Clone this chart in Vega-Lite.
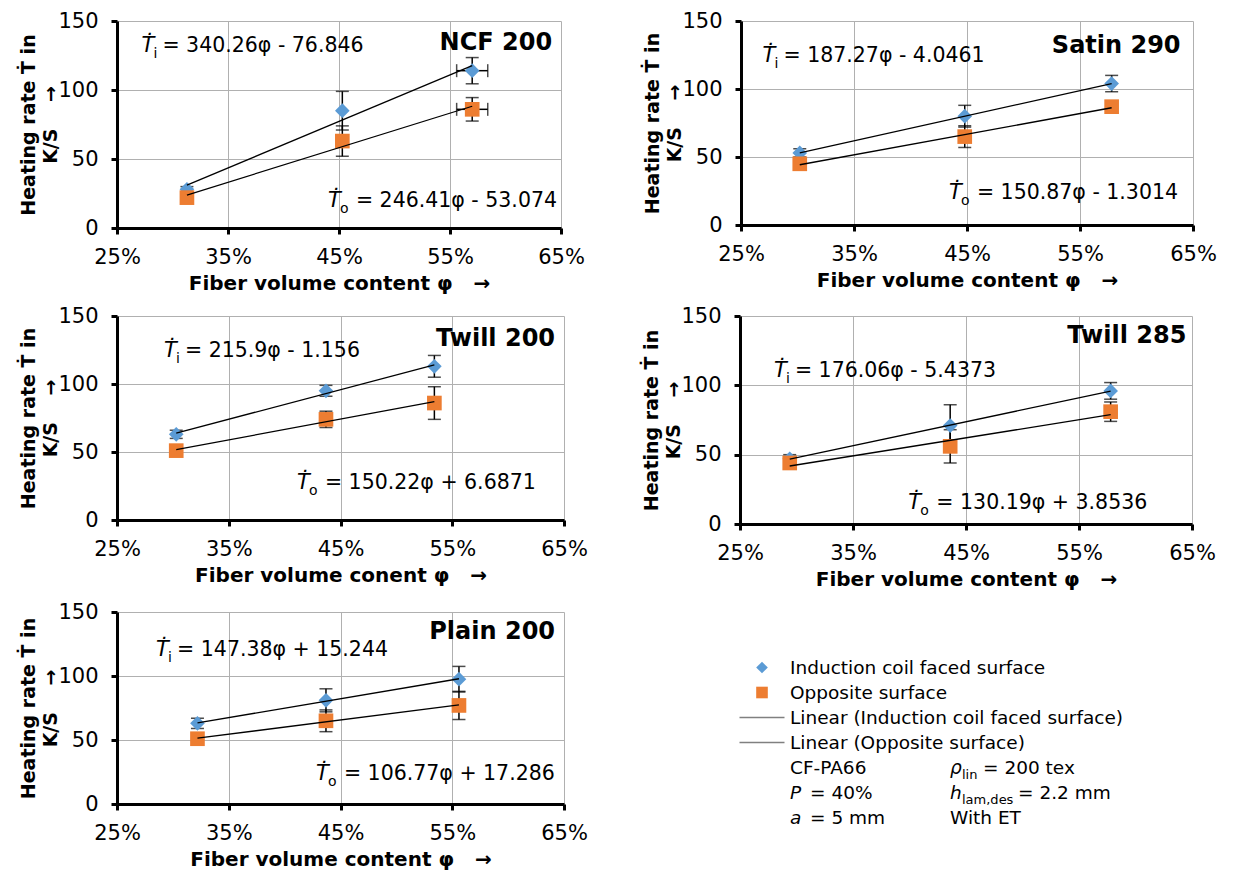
{
  "$schema": "https://vega.github.io/schema/vega-lite/v6.json",
  "padding": {"left": 19, "top": 10, "right": 5, "bottom": 5},
  "background": "white",
  "datasets": {
    "pts": [
      {"panel": "NCF 200", "series": "i", "phi": 0.313, "rate": 28, "ey": 2},
      {"panel": "NCF 200", "series": "i", "phi": 0.453, "rate": 85, "ey": 14},
      {"panel": "NCF 200", "series": "i", "phi": 0.570, "rate": 114, "ey": 9.5, "ex": 0.014},
      {"panel": "NCF 200", "series": "o", "phi": 0.313, "rate": 22, "ey": 2},
      {"panel": "NCF 200", "series": "o", "phi": 0.453, "rate": 63, "ey": 11},
      {"panel": "NCF 200", "series": "o", "phi": 0.570, "rate": 86, "ey": 8.5, "ex": 0.014},
      {"panel": "Satin 290", "series": "i", "phi": 0.302, "rate": 53, "ey": 3},
      {"panel": "Satin 290", "series": "i", "phi": 0.448, "rate": 80, "ey": 8},
      {"panel": "Satin 290", "series": "i", "phi": 0.578, "rate": 104, "ey": 6},
      {"panel": "Satin 290", "series": "o", "phi": 0.302, "rate": 45, "ey": 3},
      {"panel": "Satin 290", "series": "o", "phi": 0.448, "rate": 65, "ey": 8},
      {"panel": "Satin 290", "series": "o", "phi": 0.578, "rate": 87, "ey": 4},
      {"panel": "Twill 200", "series": "i", "phi": 0.303, "rate": 63, "ey": 3},
      {"panel": "Twill 200", "series": "i", "phi": 0.437, "rate": 95, "ey": 4},
      {"panel": "Twill 200", "series": "i", "phi": 0.534, "rate": 113, "ey": 8},
      {"panel": "Twill 200", "series": "o", "phi": 0.303, "rate": 51, "ey": 2},
      {"panel": "Twill 200", "series": "o", "phi": 0.437, "rate": 74, "ey": 6},
      {"panel": "Twill 200", "series": "o", "phi": 0.534, "rate": 86, "ey": 12},
      {"panel": "Twill 285", "series": "i", "phi": 0.294, "rate": 47, "ey": 3},
      {"panel": "Twill 285", "series": "i", "phi": 0.436, "rate": 71, "ey": 15},
      {"panel": "Twill 285", "series": "i", "phi": 0.578, "rate": 96, "ey": 6},
      {"panel": "Twill 285", "series": "o", "phi": 0.294, "rate": 44, "ey": 3},
      {"panel": "Twill 285", "series": "o", "phi": 0.436, "rate": 56, "ey": 12},
      {"panel": "Twill 285", "series": "o", "phi": 0.578, "rate": 81, "ey": 7},
      {"panel": "Plain 200", "series": "i", "phi": 0.322, "rate": 63, "ey": 4},
      {"panel": "Plain 200", "series": "i", "phi": 0.437, "rate": 81, "ey": 9},
      {"panel": "Plain 200", "series": "i", "phi": 0.556, "rate": 97.5, "ey": 10},
      {"panel": "Plain 200", "series": "o", "phi": 0.322, "rate": 51, "ey": 2},
      {"panel": "Plain 200", "series": "o", "phi": 0.437, "rate": 65, "ey": 8.5},
      {"panel": "Plain 200", "series": "o", "phi": 0.556, "rate": 77, "ey": 11}
    ],
    "eqs": [
      {"panel": "NCF 200", "phi": 0.272, "rate": 132, "sub": "i", "rest": "= 340.26φ - 76.846"},
      {"panel": "NCF 200", "phi": 0.440, "rate": 19.6, "sub": "o", "rest": "= 246.41φ - 53.074"},
      {"panel": "Satin 290", "phi": 0.269, "rate": 124, "sub": "i", "rest": "= 187.27φ - 4.0461"},
      {"panel": "Satin 290", "phi": 0.434, "rate": 23.7, "sub": "o", "rest": "= 150.87φ - 1.3014"},
      {"panel": "Twill 200", "phi": 0.292, "rate": 124, "sub": "i", "rest": "= 215.9φ - 1.156"},
      {"panel": "Twill 200", "phi": 0.411, "rate": 27.4, "sub": "o", "rest": "= 150.22φ + 6.6871"},
      {"panel": "Twill 285", "phi": 0.280, "rate": 110, "sub": "i", "rest": "= 176.06φ - 5.4373"},
      {"panel": "Twill 285", "phi": 0.399, "rate": 15.4, "sub": "o", "rest": "= 130.19φ + 3.8536"},
      {"panel": "Plain 200", "phi": 0.285, "rate": 120, "sub": "i", "rest": "= 147.38φ + 15.244"},
      {"panel": "Plain 200", "phi": 0.428, "rate": 23.4, "sub": "o", "rest": "= 106.77φ + 17.286"}
    ],
    "titles": [
      {"panel": "NCF 200", "phi": 0.642, "rate": 134, "label": "NCF 200"},
      {"panel": "Satin 290", "phi": 0.639, "rate": 131.6, "label": "Satin 290"},
      {"panel": "Twill 200", "phi": 0.642, "rate": 132.8, "label": "Twill 200"},
      {"panel": "Twill 285", "phi": 0.645, "rate": 135.5, "label": "Twill 285"},
      {"panel": "Plain 200", "phi": 0.642, "rate": 134, "label": "Plain 200"}
    ],
    "legend": [
      {"row": 1, "col": 1, "piece": "main", "kind": "i", "text": "Induction coil faced surface"},
      {"row": 2, "col": 1, "piece": "main", "kind": "o", "text": "Opposite surface"},
      {"row": 3, "col": 1, "piece": "main", "kind": "line", "text": "Linear (Induction coil faced surface)"},
      {"row": 4, "col": 1, "piece": "main", "kind": "line", "text": "Linear (Opposite surface)"},
      {"row": 5, "col": 1, "piece": "main", "kind": "none", "text": "CF-PA66"},
      {"row": 6, "col": 1, "piece": "var", "kind": "none", "text": "P"},
      {"row": 6, "col": 1, "piece": "rest1", "kind": "none", "text": "= 40%"},
      {"row": 7, "col": 1, "piece": "var", "kind": "none", "text": "a"},
      {"row": 7, "col": 1, "piece": "rest1", "kind": "none", "text": "= 5 mm"},
      {"row": 5, "col": 2, "piece": "var", "kind": "none", "text": "ρ"},
      {"row": 5, "col": 2, "piece": "sub", "kind": "none", "text": "lin"},
      {"row": 5, "col": 2, "piece": "restA", "kind": "none", "text": "= 200 tex"},
      {"row": 6, "col": 2, "piece": "var", "kind": "none", "text": "h"},
      {"row": 6, "col": 2, "piece": "sub", "kind": "none", "text": "lam,des"},
      {"row": 6, "col": 2, "piece": "restB", "kind": "none", "text": "= 2.2 mm"},
      {"row": 7, "col": 2, "piece": "main", "kind": "none", "text": "With ET"}
    ]
  },
  "vconcat": [
    {
      "hconcat": [
        {
          "width": 444, "height": 207,
          "encoding": {
            "x": {"field": "phi", "type": "quantitative", "scale": {"domain": [0.25, 0.65], "nice": false, "zero": false}, "axis": {"values": [0.25, 0.35, 0.45, 0.55, 0.65], "format": ".0%", "title": "Fiber volume content φ\u00a0\u00a0\u00a0→"}},
            "y": {"field": "rate", "type": "quantitative", "scale": {"domain": [0, 150], "nice": false}, "axis": {"values": [0, 50, 100, 150], "title": ["Heating rate  Ṫ in", "K/S\u00a0\u00a0\u00a0\u00a0→"]}}
          },
          "layer": [
            {"data": {"name": "pts"}, "transform": [{"filter": "datum.panel === 'NCF 200'"}], "mark": {"type": "errorbar", "ticks": {"size": 13}, "color": "black", "thickness": 1.5}, "encoding": {"yError": {"field": "ey"}}},
            {"data": {"name": "pts"}, "transform": [{"filter": "datum.panel === 'NCF 200' && datum.ex > 0"}], "mark": {"type": "errorbar", "ticks": {"size": 13}, "color": "black", "thickness": 1.5}, "encoding": {"xError": {"field": "ex"}}},
            {"data": {"name": "pts"}, "transform": [{"filter": "datum.panel === 'NCF 200'"}], "mark": {"type": "point", "filled": true, "opacity": 1, "size": 215}, "encoding": {"shape": {"field": "series", "type": "nominal", "scale": {"domain": ["i", "o"], "range": ["diamond", "square"]}, "legend": null}, "color": {"field": "series", "type": "nominal", "scale": {"domain": ["i", "o"], "range": ["#5b9bd5", "#ed7d31"]}, "legend": null}}},
            {"data": {"name": "pts"}, "transform": [{"filter": "datum.panel === 'NCF 200'"}, {"regression": "rate", "on": "phi", "groupby": ["series"]}], "mark": {"type": "line", "color": "black", "strokeWidth": 1.3}, "encoding": {"detail": {"field": "series", "type": "nominal"}}},
            {"data": {"name": "eqs"}, "transform": [{"filter": "datum.panel === 'NCF 200'"}], "mark": {"type": "text", "text": "Ṫ", "fontStyle": "italic", "fontSize": 21, "align": "left", "baseline": "middle"}},
            {"data": {"name": "eqs"}, "transform": [{"filter": "datum.panel === 'NCF 200'"}], "mark": {"type": "text", "fontSize": 14, "align": "left", "baseline": "middle", "dx": 12, "dy": 8}, "encoding": {"text": {"field": "sub"}}},
            {"data": {"name": "eqs"}, "transform": [{"filter": "datum.panel === 'NCF 200' && datum.sub === 'i'"}], "mark": {"type": "text", "fontSize": 20.5, "align": "left", "baseline": "middle", "dx": 21}, "encoding": {"text": {"field": "rest"}}},
            {"data": {"name": "eqs"}, "transform": [{"filter": "datum.panel === 'NCF 200' && datum.sub === 'o'"}], "mark": {"type": "text", "fontSize": 20.5, "align": "left", "baseline": "middle", "dx": 28}, "encoding": {"text": {"field": "rest"}}},
            {"data": {"name": "titles"}, "transform": [{"filter": "datum.panel === 'NCF 200'"}], "mark": {"type": "text", "fontSize": 24, "fontWeight": "bold", "align": "right", "baseline": "middle"}, "encoding": {"text": {"field": "label"}}}
          ]
        },
        {
          "width": 452, "height": 204,
          "encoding": {
            "x": {"field": "phi", "type": "quantitative", "scale": {"domain": [0.25, 0.65], "nice": false, "zero": false}, "axis": {"values": [0.25, 0.35, 0.45, 0.55, 0.65], "format": ".0%", "title": "Fiber volume content φ\u00a0\u00a0\u00a0→"}},
            "y": {"field": "rate", "type": "quantitative", "scale": {"domain": [0, 150], "nice": false}, "axis": {"values": [0, 50, 100, 150], "title": ["Heating rate  Ṫ in", "K/S\u00a0\u00a0\u00a0\u00a0→"]}}
          },
          "layer": [
            {"data": {"name": "pts"}, "transform": [{"filter": "datum.panel === 'Satin 290'"}], "mark": {"type": "errorbar", "ticks": {"size": 13}, "color": "black", "thickness": 1.5}, "encoding": {"yError": {"field": "ey"}}},
            {"data": {"name": "pts"}, "transform": [{"filter": "datum.panel === 'Satin 290'"}], "mark": {"type": "point", "filled": true, "opacity": 1, "size": 215}, "encoding": {"shape": {"field": "series", "type": "nominal", "scale": {"domain": ["i", "o"], "range": ["diamond", "square"]}, "legend": null}, "color": {"field": "series", "type": "nominal", "scale": {"domain": ["i", "o"], "range": ["#5b9bd5", "#ed7d31"]}, "legend": null}}},
            {"data": {"name": "pts"}, "transform": [{"filter": "datum.panel === 'Satin 290'"}, {"regression": "rate", "on": "phi", "groupby": ["series"]}], "mark": {"type": "line", "color": "black", "strokeWidth": 1.3}, "encoding": {"detail": {"field": "series", "type": "nominal"}}},
            {"data": {"name": "eqs"}, "transform": [{"filter": "datum.panel === 'Satin 290'"}], "mark": {"type": "text", "text": "Ṫ", "fontStyle": "italic", "fontSize": 21, "align": "left", "baseline": "middle"}},
            {"data": {"name": "eqs"}, "transform": [{"filter": "datum.panel === 'Satin 290'"}], "mark": {"type": "text", "fontSize": 14, "align": "left", "baseline": "middle", "dx": 12, "dy": 8}, "encoding": {"text": {"field": "sub"}}},
            {"data": {"name": "eqs"}, "transform": [{"filter": "datum.panel === 'Satin 290' && datum.sub === 'i'"}], "mark": {"type": "text", "fontSize": 20.5, "align": "left", "baseline": "middle", "dx": 21}, "encoding": {"text": {"field": "rest"}}},
            {"data": {"name": "eqs"}, "transform": [{"filter": "datum.panel === 'Satin 290' && datum.sub === 'o'"}], "mark": {"type": "text", "fontSize": 20.5, "align": "left", "baseline": "middle", "dx": 28}, "encoding": {"text": {"field": "rest"}}},
            {"data": {"name": "titles"}, "transform": [{"filter": "datum.panel === 'Satin 290'"}], "mark": {"type": "text", "fontSize": 24, "fontWeight": "bold", "align": "right", "baseline": "middle"}, "encoding": {"text": {"field": "label"}}}
          ]
        }
      ],
      "spacing": 58
    },
    {
      "hconcat": [
        {
          "width": 447, "height": 204,
          "encoding": {
            "x": {"field": "phi", "type": "quantitative", "scale": {"domain": [0.25, 0.65], "nice": false, "zero": false}, "axis": {"values": [0.25, 0.35, 0.45, 0.55, 0.65], "format": ".0%", "title": "Fiber volume conent φ\u00a0\u00a0\u00a0→"}},
            "y": {"field": "rate", "type": "quantitative", "scale": {"domain": [0, 150], "nice": false}, "axis": {"values": [0, 50, 100, 150], "title": ["Heating rate  Ṫ in", "K/S\u00a0\u00a0\u00a0\u00a0→"]}}
          },
          "layer": [
            {"data": {"name": "pts"}, "transform": [{"filter": "datum.panel === 'Twill 200'"}], "mark": {"type": "errorbar", "ticks": {"size": 13}, "color": "black", "thickness": 1.5}, "encoding": {"yError": {"field": "ey"}}},
            {"data": {"name": "pts"}, "transform": [{"filter": "datum.panel === 'Twill 200'"}], "mark": {"type": "point", "filled": true, "opacity": 1, "size": 215}, "encoding": {"shape": {"field": "series", "type": "nominal", "scale": {"domain": ["i", "o"], "range": ["diamond", "square"]}, "legend": null}, "color": {"field": "series", "type": "nominal", "scale": {"domain": ["i", "o"], "range": ["#5b9bd5", "#ed7d31"]}, "legend": null}}},
            {"data": {"name": "pts"}, "transform": [{"filter": "datum.panel === 'Twill 200'"}, {"regression": "rate", "on": "phi", "groupby": ["series"]}], "mark": {"type": "line", "color": "black", "strokeWidth": 1.3}, "encoding": {"detail": {"field": "series", "type": "nominal"}}},
            {"data": {"name": "eqs"}, "transform": [{"filter": "datum.panel === 'Twill 200'"}], "mark": {"type": "text", "text": "Ṫ", "fontStyle": "italic", "fontSize": 21, "align": "left", "baseline": "middle"}},
            {"data": {"name": "eqs"}, "transform": [{"filter": "datum.panel === 'Twill 200'"}], "mark": {"type": "text", "fontSize": 14, "align": "left", "baseline": "middle", "dx": 12, "dy": 8}, "encoding": {"text": {"field": "sub"}}},
            {"data": {"name": "eqs"}, "transform": [{"filter": "datum.panel === 'Twill 200' && datum.sub === 'i'"}], "mark": {"type": "text", "fontSize": 20.5, "align": "left", "baseline": "middle", "dx": 21}, "encoding": {"text": {"field": "rest"}}},
            {"data": {"name": "eqs"}, "transform": [{"filter": "datum.panel === 'Twill 200' && datum.sub === 'o'"}], "mark": {"type": "text", "fontSize": 20.5, "align": "left", "baseline": "middle", "dx": 28}, "encoding": {"text": {"field": "rest"}}},
            {"data": {"name": "titles"}, "transform": [{"filter": "datum.panel === 'Twill 200'"}], "mark": {"type": "text", "fontSize": 24, "fontWeight": "bold", "align": "right", "baseline": "middle"}, "encoding": {"text": {"field": "label"}}}
          ]
        },
        {
          "width": 452, "height": 208,
          "encoding": {
            "x": {"field": "phi", "type": "quantitative", "scale": {"domain": [0.25, 0.65], "nice": false, "zero": false}, "axis": {"values": [0.25, 0.35, 0.45, 0.55, 0.65], "format": ".0%", "title": "Fiber volume content φ\u00a0\u00a0\u00a0→"}},
            "y": {"field": "rate", "type": "quantitative", "scale": {"domain": [0, 150], "nice": false}, "axis": {"values": [0, 50, 100, 150], "title": ["Heating rate  Ṫ in", "K/S\u00a0\u00a0\u00a0\u00a0→"]}}
          },
          "layer": [
            {"data": {"name": "pts"}, "transform": [{"filter": "datum.panel === 'Twill 285'"}], "mark": {"type": "errorbar", "ticks": {"size": 13}, "color": "black", "thickness": 1.5}, "encoding": {"yError": {"field": "ey"}}},
            {"data": {"name": "pts"}, "transform": [{"filter": "datum.panel === 'Twill 285'"}], "mark": {"type": "point", "filled": true, "opacity": 1, "size": 215}, "encoding": {"shape": {"field": "series", "type": "nominal", "scale": {"domain": ["i", "o"], "range": ["diamond", "square"]}, "legend": null}, "color": {"field": "series", "type": "nominal", "scale": {"domain": ["i", "o"], "range": ["#5b9bd5", "#ed7d31"]}, "legend": null}}},
            {"data": {"name": "pts"}, "transform": [{"filter": "datum.panel === 'Twill 285'"}, {"regression": "rate", "on": "phi", "groupby": ["series"]}], "mark": {"type": "line", "color": "black", "strokeWidth": 1.3}, "encoding": {"detail": {"field": "series", "type": "nominal"}}},
            {"data": {"name": "eqs"}, "transform": [{"filter": "datum.panel === 'Twill 285'"}], "mark": {"type": "text", "text": "Ṫ", "fontStyle": "italic", "fontSize": 21, "align": "left", "baseline": "middle"}},
            {"data": {"name": "eqs"}, "transform": [{"filter": "datum.panel === 'Twill 285'"}], "mark": {"type": "text", "fontSize": 14, "align": "left", "baseline": "middle", "dx": 12, "dy": 8}, "encoding": {"text": {"field": "sub"}}},
            {"data": {"name": "eqs"}, "transform": [{"filter": "datum.panel === 'Twill 285' && datum.sub === 'i'"}], "mark": {"type": "text", "fontSize": 20.5, "align": "left", "baseline": "middle", "dx": 21}, "encoding": {"text": {"field": "rest"}}},
            {"data": {"name": "eqs"}, "transform": [{"filter": "datum.panel === 'Twill 285' && datum.sub === 'o'"}], "mark": {"type": "text", "fontSize": 20.5, "align": "left", "baseline": "middle", "dx": 28}, "encoding": {"text": {"field": "rest"}}},
            {"data": {"name": "titles"}, "transform": [{"filter": "datum.panel === 'Twill 285'"}], "mark": {"type": "text", "fontSize": 24, "fontWeight": "bold", "align": "right", "baseline": "middle"}, "encoding": {"text": {"field": "label"}}}
          ]
        }
      ],
      "spacing": 54
    },
    {
      "hconcat": [
        {
          "width": 447, "height": 192,
          "encoding": {
            "x": {"field": "phi", "type": "quantitative", "scale": {"domain": [0.25, 0.65], "nice": false, "zero": false}, "axis": {"values": [0.25, 0.35, 0.45, 0.55, 0.65], "format": ".0%", "title": "Fiber volume content φ\u00a0\u00a0\u00a0→"}},
            "y": {"field": "rate", "type": "quantitative", "scale": {"domain": [0, 150], "nice": false}, "axis": {"values": [0, 50, 100, 150], "title": ["Heating rate  Ṫ in", "K/S\u00a0\u00a0\u00a0\u00a0→"]}}
          },
          "layer": [
            {"data": {"name": "pts"}, "transform": [{"filter": "datum.panel === 'Plain 200'"}], "mark": {"type": "errorbar", "ticks": {"size": 13}, "color": "black", "thickness": 1.5}, "encoding": {"yError": {"field": "ey"}}},
            {"data": {"name": "pts"}, "transform": [{"filter": "datum.panel === 'Plain 200'"}], "mark": {"type": "point", "filled": true, "opacity": 1, "size": 215}, "encoding": {"shape": {"field": "series", "type": "nominal", "scale": {"domain": ["i", "o"], "range": ["diamond", "square"]}, "legend": null}, "color": {"field": "series", "type": "nominal", "scale": {"domain": ["i", "o"], "range": ["#5b9bd5", "#ed7d31"]}, "legend": null}}},
            {"data": {"name": "pts"}, "transform": [{"filter": "datum.panel === 'Plain 200'"}, {"regression": "rate", "on": "phi", "groupby": ["series"]}], "mark": {"type": "line", "color": "black", "strokeWidth": 1.3}, "encoding": {"detail": {"field": "series", "type": "nominal"}}},
            {"data": {"name": "eqs"}, "transform": [{"filter": "datum.panel === 'Plain 200'"}], "mark": {"type": "text", "text": "Ṫ", "fontStyle": "italic", "fontSize": 21, "align": "left", "baseline": "middle"}},
            {"data": {"name": "eqs"}, "transform": [{"filter": "datum.panel === 'Plain 200'"}], "mark": {"type": "text", "fontSize": 14, "align": "left", "baseline": "middle", "dx": 12, "dy": 8}, "encoding": {"text": {"field": "sub"}}},
            {"data": {"name": "eqs"}, "transform": [{"filter": "datum.panel === 'Plain 200' && datum.sub === 'i'"}], "mark": {"type": "text", "fontSize": 20.5, "align": "left", "baseline": "middle", "dx": 21}, "encoding": {"text": {"field": "rest"}}},
            {"data": {"name": "eqs"}, "transform": [{"filter": "datum.panel === 'Plain 200' && datum.sub === 'o'"}], "mark": {"type": "text", "fontSize": 20.5, "align": "left", "baseline": "middle", "dx": 28}, "encoding": {"text": {"field": "rest"}}},
            {"data": {"name": "titles"}, "transform": [{"filter": "datum.panel === 'Plain 200'"}], "mark": {"type": "text", "fontSize": 24, "fontWeight": "bold", "align": "right", "baseline": "middle"}, "encoding": {"text": {"field": "label"}}}
          ]
        },
        {
          "width": 160, "height": 205.5,
          "data": {"name": "legend"},
          "encoding": {
            "x": {"field": "col", "type": "quantitative", "scale": {"domain": [1, 2], "nice": false, "zero": false}, "axis": null},
            "y": {"field": "row", "type": "quantitative", "scale": {"domain": [-1.22, 7], "nice": false, "zero": false, "reverse": true}, "axis": null}
          },
          "layer": [
            {"transform": [{"filter": "datum.kind === 'line'"}], "mark": {"type": "point", "shape": "stroke", "size": 2025, "filled": false, "color": "#808080", "strokeWidth": 1.5, "opacity": 1, "xOffset": -28}},
            {"transform": [{"filter": "datum.kind === 'i' || datum.kind === 'o'"}], "mark": {"type": "point", "filled": true, "opacity": 1, "size": 135, "xOffset": -28}, "encoding": {"shape": {"field": "kind", "type": "nominal", "scale": {"domain": ["i", "o"], "range": ["diamond", "square"]}, "legend": null}, "color": {"field": "kind", "type": "nominal", "scale": {"domain": ["i", "o"], "range": ["#5b9bd5", "#ed7d31"]}, "legend": null}}},
            {"transform": [{"filter": "datum.piece === 'main'"}], "mark": {"type": "text", "fontSize": 18.5, "align": "left", "baseline": "middle"}, "encoding": {"text": {"field": "text"}}},
            {"transform": [{"filter": "datum.piece === 'var'"}], "mark": {"type": "text", "fontSize": 18.5, "fontStyle": "italic", "align": "left", "baseline": "middle"}, "encoding": {"text": {"field": "text"}}},
            {"transform": [{"filter": "datum.piece === 'rest1'"}], "mark": {"type": "text", "fontSize": 18.5, "align": "left", "baseline": "middle", "dx": 20}, "encoding": {"text": {"field": "text"}}},
            {"transform": [{"filter": "datum.piece === 'sub'"}], "mark": {"type": "text", "fontSize": 13, "align": "left", "baseline": "middle", "dx": 12, "dy": 7}, "encoding": {"text": {"field": "text"}}},
            {"transform": [{"filter": "datum.piece === 'restA'"}], "mark": {"type": "text", "fontSize": 18.5, "align": "left", "baseline": "middle", "dx": 33}, "encoding": {"text": {"field": "text"}}},
            {"transform": [{"filter": "datum.piece === 'restB'"}], "mark": {"type": "text", "fontSize": 18.5, "align": "left", "baseline": "middle", "dx": 68}, "encoding": {"text": {"field": "text"}}}
          ]
        }
      ],
      "spacing": 148
    }
  ],
  "spacing": 12,
  "config": {
    "font": "DejaVu Sans",
    "view": {"stroke": null},
    "text": {"font": "DejaVu Sans", "color": "black"},
    "axis": {
      "labelFont": "DejaVu Sans", "labelFontSize": 21, "labelColor": "black",
      "labelFlush": false, "labelOverlap": false,
      "titleFont": "DejaVu Sans", "titleFontWeight": "bold", "titleColor": "black",
      "domainColor": "black", "domainWidth": 3,
      "tickColor": "black", "tickWidth": 3, "tickSize": 6,
      "gridColor": "#b0b0b0", "gridWidth": 1
    },
    "axisX": {"labelPadding": 12, "titleFontSize": 20, "titlePadding": 6},
    "axisY": {"labelPadding": 13, "titleFontSize": 19, "titleLineHeight": 22, "titlePadding": -3}
  }
}
